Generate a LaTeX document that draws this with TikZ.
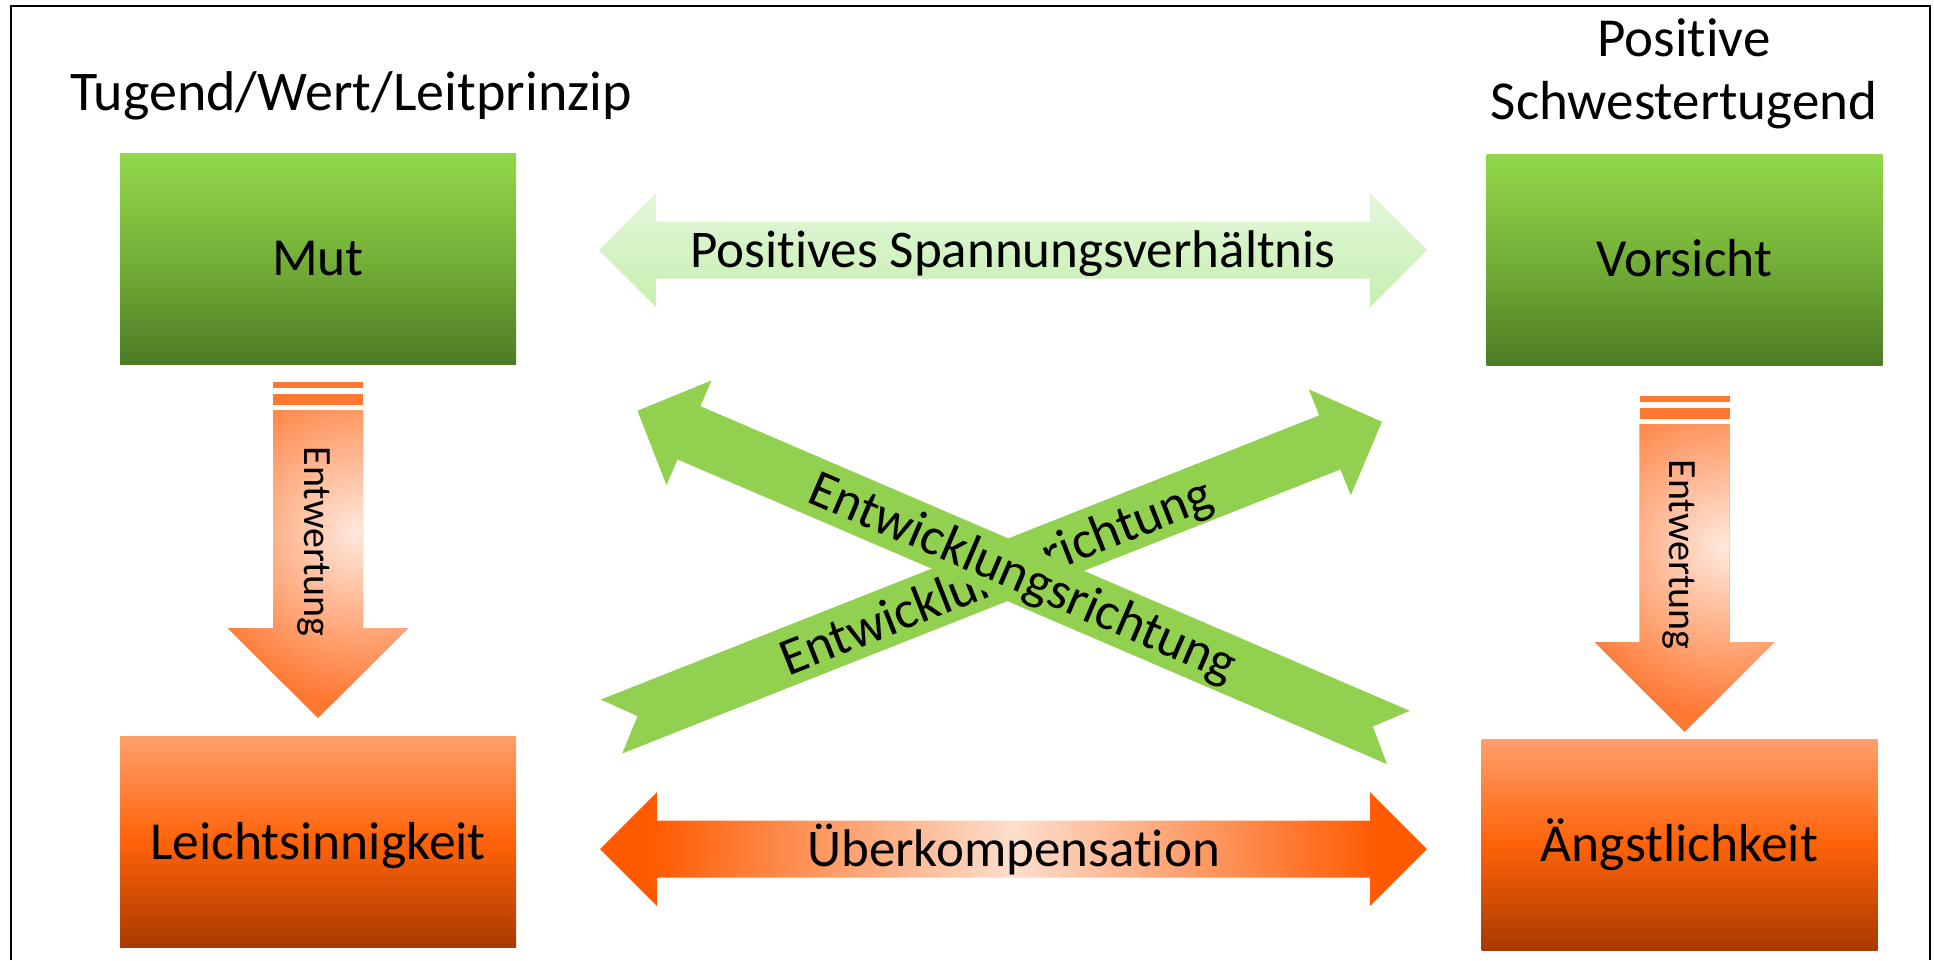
\documentclass[tikz,border=0pt]{standalone}
\usepackage{fontspec}
\setmainfont{Carlito}[Ligatures=NoCommon]
\usetikzlibrary{calc}
\definecolor{gtop}{HTML}{92D84A}
\definecolor{gmid}{HTML}{74B038}
\definecolor{gbot}{HTML}{4E7B24}
\definecolor{otop}{HTML}{FFA06C}
\definecolor{omid}{HTML}{FF6208}
\definecolor{obot}{HTML}{A83A00}
\definecolor{xgreen}{HTML}{92D050}
\definecolor{ptop}{HTML}{E4F7DB}
\definecolor{pbot}{HTML}{C6EFB0}
\definecolor{uend}{HTML}{FF5A00}
\definecolor{umid}{HTML}{FDDECD}
\definecolor{ewor}{HTML}{FF7832}
\definecolor{ewlt}{HTML}{FFE9DE}
\pgfdeclarehorizontalshading{uberk}{100bp}{color(0bp)=(uend); color(28bp)=(uend); color(50bp)=(umid); color(72bp)=(uend); color(100bp)=(uend)}
% block double arrow between two named tip coordinates
\newcommand\dblarrow[3]{\path[#1] (#2) -- ($(#2)+(57,-57)$) -- ($(#2)+(57,-28.5)$) -- ($(#3)+(-57,-28.5)$) -- ($(#3)+(-57,-57)$) -- (#3) -- ($(#3)+(-57,57)$) -- ($(#3)+(-57,28.5)$) -- ($(#2)+(57,28.5)$) -- ($(#2)+(57,57)$) -- cycle;}
% downward block arrow with two stripes, from a named top-centre coordinate
\newcommand\entwarrow[1]{%
  \fill[ewor] ($(#1)+(-45,0)$) rectangle ($(#1)+(45,6)$);
  \fill[ewor] ($(#1)+(-45,12)$) rectangle ($(#1)+(45,23)$);
  \begin{scope}
    \clip ($(#1)+(-45,28)$) -- ($(#1)+(45,28)$) -- ($(#1)+(45,246)$) -- ($(#1)+(90,246)$) -- ($(#1)+(0,336)$) -- ($(#1)+(-90,246)$) -- ($(#1)+(-45,246)$) -- cycle;
    \fill[ewor] ($(#1)+(-95,20)$) rectangle ($(#1)+(95,340)$);
    \shade[inner color=ewlt, outer color=ewor] ($(#1)+(40,150)$) circle (85pt);
  \end{scope}}
% notched single arrow: tail coordinate, angle, length
\newcommand\devarrow[3]{\fill[xgreen, shift={(#1)}, rotate=#2] (0,-29) -- (#3-56,-29) -- (#3-56,-57) -- (#3,0) -- (#3-56,57) -- (#3-56,29) -- (0,29) -- (28,0) -- cycle;}
\begin{document}
\begin{tikzpicture}[x=0.5pt,y=-0.5pt,
  box/.style={minimum width=198pt, minimum height=105.5pt, inner sep=0pt,
    font=\fontsize{26.75pt}{32pt}\selectfont, text height=17.2pt, text depth=0pt},
  gbox/.style={box, top color=gtop, bottom color=gbot, middle color=gmid},
  obox/.style={box, top color=otop, bottom color=obot, middle color=omid},
  headtext/.style={inner sep=0pt, font=\fontsize{28pt}{34pt}\selectfont},
  midtext/.style={inner sep=0pt, font=\fontsize{26.5pt}{32pt}\selectfont, text height=17pt, text depth=0pt},
  ewtext/.style={inner sep=0pt, font=\fontsize{20pt}{24pt}\selectfont},
  devtext/.style={inner sep=0pt, font=\fontsize{26.5pt}{32pt}\selectfont}]
\useasboundingbox (0,0) rectangle (1934,960);
\fill[white] (0,0) rectangle (1934,960);
\draw[line width=1pt] (11,960) -- (11,6) -- (1930,6) -- (1930,960);

% headings
\node[headtext, anchor=base] (tugend) at (351,110) {Tugend/Wert/Leitprinzip};
\node[headtext, anchor=base, font=\fontsize{27.5pt}{33pt}\selectfont] (positive) at (1684,56) {Positive};
\node[headtext, anchor=base, font=\fontsize{27.5pt}{33pt}\selectfont] (schwester) at (1684,119) {Schwestertugend};

% boxes
\node[gbox] (mut) at (318,258.5) {Mut};
\node[gbox] (vorsicht) at (1684.5,259.5) {Vorsicht};
\node[obox] (leicht) at (318,842) {Leichtsinnigkeit};
\node[obox] (angst) at (1679.5,844.5) {Ängstlichkeit};

% positive tension
\coordinate (spL) at (599,250);
\coordinate (spR) at (1427,250);
\dblarrow{top color=ptop, bottom color=pbot}{spL}{spR}
\node[midtext] (spText) at ($(spL)!0.5!(spR)$) {Positives Spannungsverhältnis};

% overcompensation
\coordinate (ukL) at (600,849);
\coordinate (ukR) at (1427,849);
\dblarrow{shading=uberk}{ukL}{ukR}
\node[midtext] (ukText) at ($(ukL)!0.5!(ukR)$) {Überkompensation};

% devaluation arrows
\coordinate (ewL) at (318,382);
\coordinate (ewR) at (1684.5,396);
\entwarrow{ewL}
\entwarrow{ewR}
\node[ewtext, rotate=-90] (ewLText) at (314,541.5) {Entwertung};
\node[ewtext, rotate=-90] (ewRText) at (1679,554.5) {Entwertung};

% development direction arrows
\coordinate (tailB) at (611.5,726.5);
\coordinate (tailA) at (1398.5,737.5);
\devarrow{tailB}{21.58}{828.5}
\node[devtext, rotate=21.58] (devBText) at (997,579) {Entwicklungsrichtung};
\devarrow{tailA}{156.76}{828.2}
\node[devtext, rotate=-23.24] (devAText) at (1022,579) {Entwicklungsrichtung};
\end{tikzpicture}
\end{document}
